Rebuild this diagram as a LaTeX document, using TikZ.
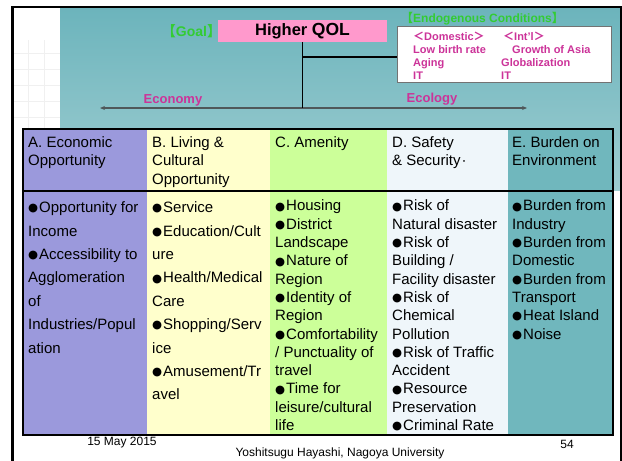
\documentclass[tikz,border=0pt]{standalone}
\usepackage{fontspec}
\setmainfont{Liberation Sans}
\newfontfamily\cjkfont{Noto Sans CJK JP}
\newfontfamily\symfont{DejaVu Sans}
\usetikzlibrary{arrows.meta}
\newcommand\bul{\raisebox{0.8pt}{\symfont\fontsize{11.5}{12}\selectfont ●}\kern1pt}
\definecolor{slideteal}{RGB}{108, 180, 188}
\definecolor{slidepale}{RGB}{158, 205, 209}
\definecolor{goalpink}{RGB}{255, 153, 204}
\definecolor{goalgreen}{RGB}{51, 204, 51}
\definecolor{axispink}{RGB}{204, 51, 153}
\definecolor{axisgray}{RGB}{80, 88, 90}
\definecolor{econblue}{RGB}{155, 153, 220}
\definecolor{livecream}{RGB}{255, 255, 204}
\definecolor{amenlime}{RGB}{204, 255, 153}
\definecolor{safeice}{RGB}{239, 246, 250}
\definecolor{envteal}{RGB}{112, 183, 189}

\begin{document}
\begin{tikzpicture}[x=1pt, y=-1pt,
    head/.style={anchor=north west, inner sep=0pt, align=left, font=\fontsize{15}{18.6}\selectfont},
    wide/.style={anchor=north west, inner sep=0pt, align=left, font=\fontsize{15}{23.4}\selectfont},
    tight/.style={anchor=north west, inner sep=0pt, align=left, font=\fontsize{15}{18.3}\selectfont},
    cond/.style={anchor=north west, inner sep=0pt, align=left, text=axispink, font=\fontsize{11}{13}\selectfont\bfseries},
    foot/.style={inner sep=0pt, font=\fontsize{12}{14}\selectfont}]
    \useasboundingbox (0,0) rectangle (622,461);
    \fill[white] (0,0) rectangle (622,461);
    \foreach \gx in {28,44} \draw[gray!12] (\gx,40) -- (\gx,129);
    \foreach \gy in {53,69,85,101,117} \draw[gray!12] (14,\gy) -- (60,\gy);
    \shade[top color=slideteal, bottom color=slidepale] (60,8) rectangle (620,190);
    \draw[line width=2.6] (12.5,461) -- (12.5,7) -- (620.8,7) -- (620.8,461);

    \node[fill=goalpink, minimum width=169, minimum height=22, inner sep=0pt,
          font=\fontsize{16.5}{18}\selectfont\bfseries] (qol) at (302.5,31) {Higher \fontsize{17.5}{18}\selectfont QOL};
    \node[text=goalgreen, inner sep=0pt, font=\fontsize{14}{16}\selectfont\bfseries]
          (goal) at (191.5,31) {{\cjkfont 【}Goal{\cjkfont 】}};
    \node[draw=gray!90!black, fill=white, minimum width=214, minimum height=56, inner sep=0pt]
          (endo) at (504,54) {};
    \node[text=goalgreen, inner sep=0pt, font=\fontsize{12}{14}\selectfont\bfseries]
          (endotitle) at (482.5,19) {{\cjkfont 【}Endogenous Conditions{\cjkfont 】}};
    \node[cond] (domestic) at (413,31.5) {{\cjkfont ＜}Domestic{\cjkfont ＞}\\Low birth rate\\Aging\\IT};
    \node[cond] (intl)     at (501,31.5) {\hspace{2pt}{\cjkfont ＜}Int'l{\cjkfont ＞}\\\hspace{11pt}Growth of Asia\\Globalization\\IT};

    \coordinate (west end) at (100,108);
    \coordinate (east end) at (527,108);
    \coordinate (axis)     at (qol.south |- west end);
    \coordinate (tee)      at (qol.south |- 0,57);
    \draw[axisgray, line width=1.3, {Stealth[length=5pt,width=4pt]}-{Stealth[length=5pt,width=4pt]}] (west end) -- (east end);
    \draw[line width=0.9] (qol.south) -- (axis);
    \draw[line width=1.4] (tee) -- (tee -| endo.west);
    \node[text=axispink, inner sep=0pt, font=\fontsize{13}{15}\selectfont\bfseries] (economy) at (173,100) {Economy};
    \node[text=axispink, inner sep=0pt, font=\fontsize{13}{15}\selectfont\bfseries] (ecology) at (432,99)  {Ecology};

    \fill[econblue]  ( 23,129) rectangle (147,435);
    \fill[livecream] (147,129) rectangle (270,435);
    \fill[amenlime]  (270,129) rectangle (387,435);
    \fill[safeice]   (387,129) rectangle (508,435);
    \fill[envteal]   (508,129) rectangle (613,435);
    \draw[line width=1.3] (23,129) rectangle (613,435);
    \draw[line width=1.3] (23,191) -- (613,191);

    \node[head] (headA) at (28,136)  {A. Economic\\Opportunity};
    \node[head] (headB) at (152,136) {B. Living \&\\Cultural\\Opportunity};
    \node[head] (headC) at (275,136) {C. Amenity};
    \node[head] (headD) at (392,136) {D. Safety\\\& Security\kern1pt·};
    \node[head] (headE) at (512,136) {E. Burden on\\Environment};

    \node[wide]  (itemsA) at (28,201.7)  {\bul Opportunity for\\Income\\\bul Accessibility to\\Agglomeration\\of\\Industries/Popul\\ation};
    \node[wide]  (itemsB) at (152,201.7) {\bul Service\\\bul Education/Cult\\ure\\\bul Health/Medical\\Care\\\bul Shopping/Serv\\ice\\\bul Amusement/Tr\\avel};
    \node[tight] (itemsC) at (275,199.9) {\bul Housing\\\bul District\\Landscape\\\bul Nature of\\Region\\\bul Identity of\\Region\\\bul Comfortability\\/ Punctuality of\\travel\\\bul Time for\\leisure/cultural\\life};
    \node[tight] (itemsD) at (392,199.9) {\bul Risk of\\Natural disaster\\\bul Risk of\\Building /\\Facility disaster\\\bul Risk of\\Chemical\\Pollution\\\bul Risk of Traffic\\Accident\\\bul Resource\\Preservation\\\bul Criminal Rate};
    \node[tight] (itemsE) at (512,199.9) {\bul Burden from\\Industry\\\bul Burden from\\Domestic\\\bul Burden from\\Transport\\\bul Heat Island\\\bul Noise};

    \node[foot] (date)   at (122,443) {15 May 2015};
    \node[foot] (author) at (340,453) {Yoshitsugu Hayashi, Nagoya University};
    \node[foot] (page)   at (567,444) {54};
\end{tikzpicture}
\end{document}
